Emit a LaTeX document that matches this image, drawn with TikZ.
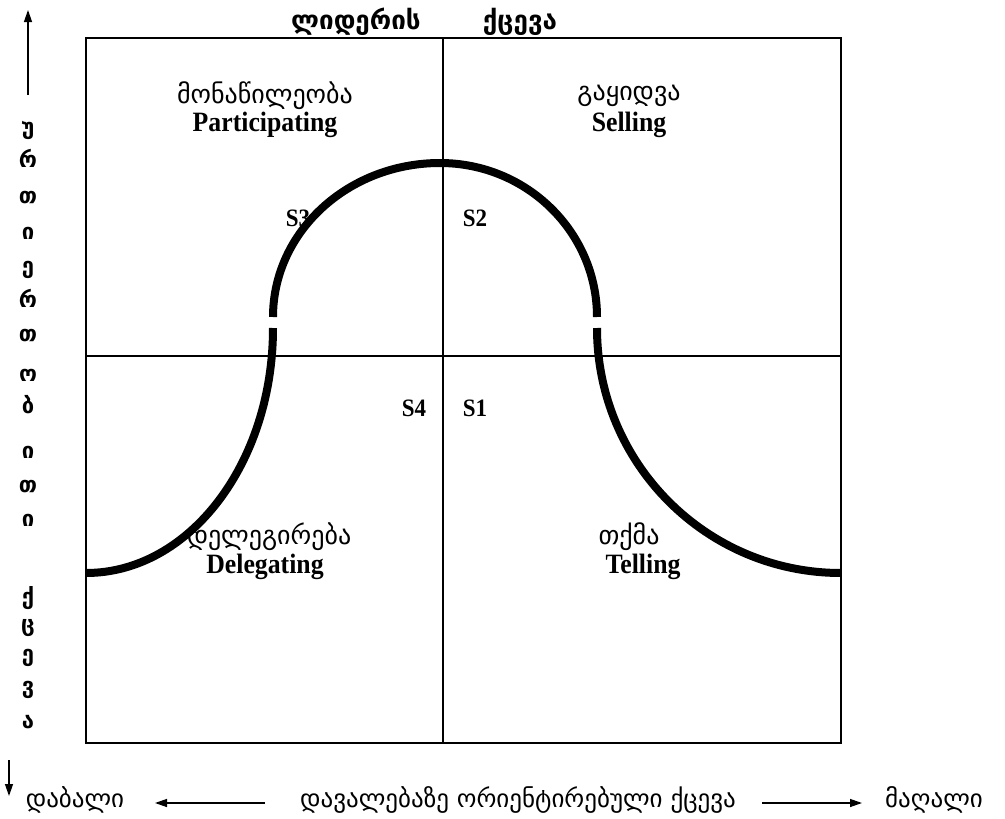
\documentclass[tikz,border=0pt]{standalone}
\usepackage{fontspec}
\setmainfont{Liberation Serif}
\newfontfamily\geo{DejaVu Sans}
\newfontfamily\encond[FakeStretch=0.92]{Liberation Serif}
\usetikzlibrary{arrows.meta}
\begin{document}
\begin{tikzpicture}[x=1pt,y=-1pt,
  geotext/.style={font=\geo\fontsize{26}{26}\selectfont, inner sep=0pt},
  geobottom/.style={font=\geo\fontsize{25}{25}\selectfont, inner sep=0pt},
  geotop/.style={font=\geo\bfseries\fontsize{26}{26}\selectfont, inner sep=0pt},
  entext/.style={font=\encond\bfseries\fontsize{28}{28}\selectfont, inner sep=0pt},
  slabel/.style={font=\encond\bfseries\fontsize{25}{25}\selectfont, inner sep=0pt},
  vletter/.style={font=\geo\bfseries\fontsize{22}{22}\selectfont, inner sep=0pt},
  frame/.style={line width=2pt},
  midline/.style={line width=1.5pt},
  curve/.style={line width=8pt},
  axarrow/.style={line width=1.3pt, -{Triangle[length=12pt,width=8pt]}}
]
\useasboundingbox (0,0) rectangle (1005,819);
% frame coordinates
\coordinate (tl) at (86,38);
\coordinate (br) at (841,743);
\coordinate (mt) at (443,38);
\coordinate (mb) at (443,743);
\coordinate (ml) at (86,356);
\coordinate (mr) at (841,356);
\draw[frame] (tl) rectangle (br);
\draw[midline] (mt) -- (mb);
\draw[midline] (ml) -- (mr);
% S3 under the curve
\node[slabel] (s3) at (298,218) {S3};
% curve
\coordinate (cl0) at (86,573);
\coordinate (cl1) at (273,328);
\coordinate (cl2) at (273,317);
\coordinate (ctop) at (440,163);
\coordinate (cr2) at (597,317);
\coordinate (cr1) at (597,328);
\coordinate (cr0) at (841,573);
\draw[curve] (cl0) .. controls (189.3,573) and (273,463.3) .. (cl1);
\draw[curve] (cl2) .. controls (273,232) and (347.8,163) .. (ctop)
                   .. controls (526.7,163) and (597,232) .. (cr2);
\draw[curve] (cr1) .. controls (597,463.3) and (706.2,573) .. (cr0);
% top label
\node[geotop] (t1) at (356,22) {ლიდერის};
\node[geotop] (t2) at (520,22) {ქცევა};
% quadrant labels
\node[geotext] (q1g) at (265,96) {მონაწილეობა};
\node[entext] (q1e) at (265,125) {Participating};
\node[geotext] (q2g) at (629,96) {გაყიდვა};
\node[entext] (q2e) at (629,125) {Selling};
\node[geotext] (q3g) at (269,537) {დელეგირება};
\node[entext] (q3e) at (265,567) {Delegating};
\node[geotext] (q4g) at (629,537) {თქმა};
\node[entext] (q4e) at (643,567) {Telling};
\node[slabel] (s2) at (475,218) {S2};
\node[slabel] (s4) at (414,408) {S4};
\node[slabel] (s1) at (475,408) {S1};
% left vertical axis
\coordinate (ya0) at (28,95);
\coordinate (ya1) at (28,10);
\draw[axarrow] (ya0) -- (ya1);
\foreach \ch/\yy in {უ/130,რ/158,თ/198,ი/233,ე/270,რ/298,თ/336,ო/375,ბ/405,ი/452,თ/487,ი/520,ქ/598,ც/628,ე/658,ვ/690,ა/722}
  \node[vletter] at (28,\yy) {\ch};
\coordinate (yd0) at (9,760);
\coordinate (yd1) at (9,796);
\draw[axarrow] (yd0) -- (yd1);
% bottom axis
\node[geobottom] (low) at (75,800) {დაბალი};
\node[geobottom] (xlab) at (518,800) {დავალებაზე ორიენტირებული ქცევა};
\node[geobottom] (high) at (934,800) {მაღალი};
\coordinate (xa0) at (265,803);
\coordinate (xa1) at (155,803);
\coordinate (xb0) at (762,803);
\coordinate (xb1) at (862,803);
\draw[axarrow] (xa0) -- (xa1);
\draw[axarrow] (xb0) -- (xb1);
\end{tikzpicture}
\end{document}
